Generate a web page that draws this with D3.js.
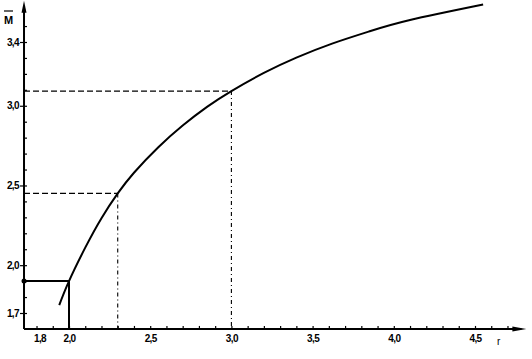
<!DOCTYPE html>
<html><head><meta charset="utf-8">
<script src="https://cdn.jsdelivr.net/npm/d3@7"></script>
<style>
body{margin:0;background:#fff;}
svg{display:block;}
.lbl{font-family:"Liberation Sans","Arial",sans-serif;font-weight:bold;font-size:10px;fill:#000;letter-spacing:-0.6px;}
</style></head>
<body><svg id="c" width="532" height="359"></svg>
<script>
// Data
const curveR = [1.94, 2.0, 2.1, 2.2, 2.3, 2.4, 2.55, 2.7, 2.85, 3.0, 3.2, 3.4, 3.62, 3.85, 4.1, 4.55];
const curveM = [1.75, 1.90, 2.11, 2.295, 2.45, 2.58, 2.74, 2.876, 2.993, 3.092, 3.206, 3.302, 3.39, 3.467, 3.538, 3.635];
const xTicks = [1.8, 2.0, 2.5, 3.0, 3.5, 4.0, 4.5];
const xTickLabels = ["1,8", "2,0", "2,5", "3,0", "3,5", "4,0", "4,5"];
const yTicks = [1.7, 2.0, 2.5, 3.0, 3.4];
const yTickLabels = ["1,7", "2,0", "2,5", "3,0", "3,4"];
const dashedR = [2.3, 3.0];
const dashedM = [2.45, 3.092];
const solidR = [2.0];
const solidM = [1.9];

const svg = d3.select("#c");
const x = d3.scaleLinear().domain([2.0, 4.5]).range([69, 475]);
const y = d3.scaleLinear().domain([1.7, 3.4]).range([313, 42]);
const rMin = 1.723, rMax = 4.81, mMin = 1.6, mMax = 3.64;
const x0 = x(rMin), y0 = y(mMin);

// minor ticks
const xMinor = d3.range(18, 48).map(d => d / 10);
const yMinor = d3.range(17, 36).map(d => d / 10);
svg.append("g").attr("transform", `translate(0,${y0})`)
  .call(d3.axisTop(x).tickValues(xMinor).tickSize(3).tickFormat(""))
  .call(g => g.select(".domain").remove())
  .selectAll("line").attr("stroke", "#000").attr("stroke-width", 1.2);
svg.append("g").attr("transform", `translate(${x0},0)`)
  .call(d3.axisRight(y).tickValues(yMinor).tickSize(3).tickFormat(""))
  .call(g => g.select(".domain").remove())
  .selectAll("line").attr("stroke", "#000").attr("stroke-width", 1.2);

// major labels
const gx = svg.append("g").attr("transform", `translate(0,${y0})`)
  .call(d3.axisBottom(x).tickValues(xTicks).tickSize(0).tickPadding(6)
    .tickFormat((d, i) => xTickLabels[i]));
gx.select(".domain").remove();
gx.selectAll("text").attr("class", "lbl").attr("font-family", null).attr("font-size", null)
  .attr("dx", (d, i) => i === 0 ? 3 : 0);

const gy = svg.append("g").attr("transform", `translate(${x0},0)`)
  .call(d3.axisLeft(y).tickValues(yTicks).tickSize(4).tickPadding(1)
    .tickFormat((d, i) => yTickLabels[i]));
gy.select(".domain").remove();
gy.selectAll("line").attr("stroke", "#000").attr("stroke-width", 1.2);
gy.selectAll("text").attr("class", "lbl").attr("font-family", null).attr("font-size", null);

// axes lines
svg.append("line").attr("x1", x0).attr("x2", x0).attr("y1", y0).attr("y2", y(mMax) + 4)
  .attr("stroke", "#000").attr("stroke-width", 2);
svg.append("line").attr("x1", x0).attr("x2", x(rMax) - 4).attr("y1", y0).attr("y2", y0)
  .attr("stroke", "#000").attr("stroke-width", 2);
// arrows
const ay = y(mMax);
svg.append("path").attr("d", `M${x0},${ay - 3} L${x0 - 2.5},${ay + 9} L${x0 + 2.5},${ay + 9} Z`).attr("fill", "#000");
const ax = x(rMax);
svg.append("path").attr("d", `M${ax + 1},${y0} L${ax - 13},${y0 - 2.5} L${ax - 13},${y0 + 2.5} Z`).attr("fill", "#000");

// axis titles
svg.append("text").attr("class", "lbl").attr("x", 4).attr("y", 24).style("font-size", "11px").text("M");
svg.append("line").attr("x1", 4).attr("x2", 13).attr("y1", 11).attr("y2", 11).attr("stroke", "#000").attr("stroke-width", 1.2);
svg.append("text").attr("class", "lbl").attr("x", 497).attr("y", 345).style("font-weight", "normal").text("r");

// dashed guides
dashedR.forEach((r, i) => {
  const m = dashedM[i];
  svg.append("line").attr("x1", x0).attr("x2", x(r)).attr("y1", y(m)).attr("y2", y(m))
    .attr("stroke", "#000").attr("stroke-width", 1.3).attr("stroke-dasharray", "6,3");
  svg.append("line").attr("x1", x(r)).attr("x2", x(r)).attr("y1", y(m)).attr("y2", y0)
    .attr("stroke", "#000").attr("stroke-width", 1.1).attr("stroke-dasharray", "4,3,1,3");
});
// solid guides
solidR.forEach((r, i) => {
  const m = solidM[i];
  svg.append("path").attr("d", `M${x0},${y(m)} L${x(r)},${y(m)} L${x(r)},${y0}`)
    .attr("fill", "none").attr("stroke", "#000").attr("stroke-width", 2);
  svg.append("circle").attr("cx", x0).attr("cy", y(m)).attr("r", 2.5).attr("fill", "#000");
});

// curve
const pts = curveR.map((r, i) => [r, curveM[i]]);
svg.append("path").datum(pts)
  .attr("d", d3.line().x(d => x(d[0])).y(d => y(d[1])).curve(d3.curveNatural))
  .attr("fill", "none").attr("stroke", "#000").attr("stroke-width", 2);
</script></body></html>
